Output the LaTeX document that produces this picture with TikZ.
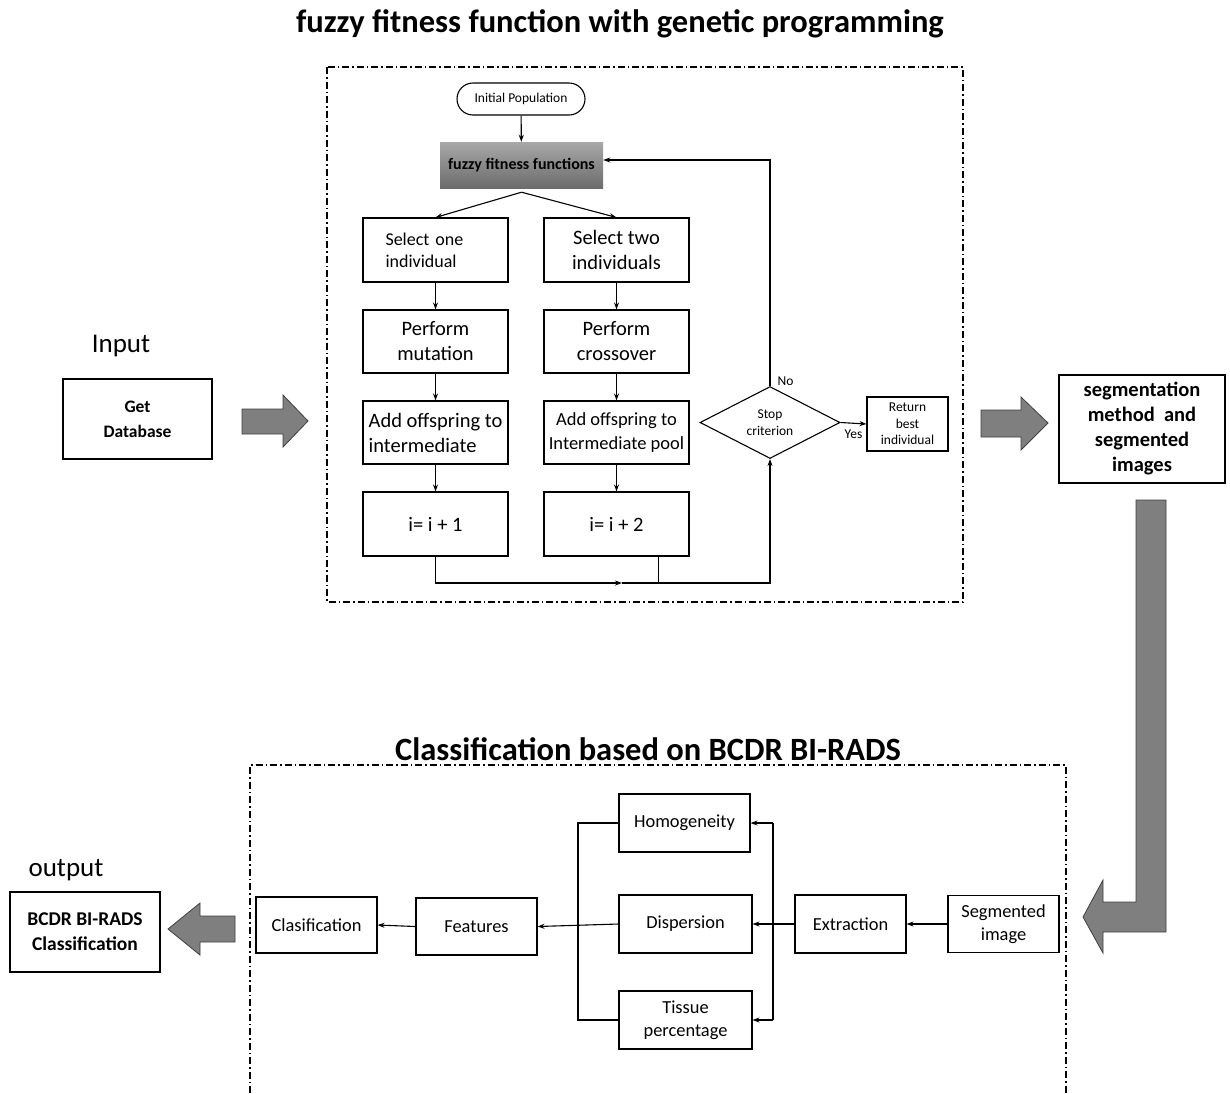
\documentclass[tikz,border=0pt]{standalone}
\usepackage{fontspec}
\setmainfont{Carlito}
\usetikzlibrary{arrows.meta,shapes.geometric}
\definecolor{FFTop}{HTML}{A8A8A8}
\definecolor{FFBottom}{HTML}{6C6C6C}
\definecolor{ArrGray}{HTML}{7F7F7F}
\definecolor{ArrEdge}{HTML}{404040}

\tikzset{
  stepbox/.style={draw,line width=1.1pt,minimum width=145pt,minimum height=63pt,align=center,inner sep=2pt,font=\fontsize{20.5}{25}\selectfont},
  featbox/.style={draw,line width=1.1pt,minimum height=57pt,align=center,inner sep=2pt,font=\fontsize{18.4}{23}\selectfont},
  iobox/.style={draw,line width=1.3pt,align=center,inner sep=2pt},
  smalltxt/.style={font=\fontsize{13.5}{16.5}\selectfont},
  flow/.style={line width=1.1pt,-{Stealth[length=7pt,width=5pt]}},
  wire/.style={line width=1.1pt},
  groupframe/.style={line width=1.3pt,dash pattern=on 7pt off 3pt on 1.5pt off 3pt},
  fatarrow/.style={fill=ArrGray,draw=ArrEdge,line width=.8pt,line join=miter},
  headtxt/.style={font=\bfseries\fontsize{32.5}{36}\selectfont},
  sidetxt/.style={font=\fontsize{27}{30}\selectfont}
}

\begin{document}
\begin{tikzpicture}[x=1pt,y=-1pt]
\path[use as bounding box] (0,0) rectangle (1230,1093);

% genetic programming part
\node[headtxt] (gptitle) at (620,24) {fuzzy fitness function with genetic programming};
\draw[groupframe] (327,67) rectangle (963,602);

\node[draw,line width=1.1pt,rounded corners=16pt,minimum width=128pt,minimum height=32pt,smalltxt] (init) at (521,99) {Initial Population};
\node[top color=FFTop,bottom color=FFBottom,minimum width=163pt,minimum height=46pt,font=\bfseries\fontsize{16}{19}\selectfont] (fit) at (521.5,165) {fuzzy fitness functions};

\node[stepbox,minimum height=64pt,font=\fontsize{18}{22}\selectfont,align=left,text width=100pt] (sel1) at (435.5,250) {Select one\\individual};
\node[stepbox,minimum height=64pt] (sel2) at (616.5,250) {Select two\\individuals};
\node[stepbox] (mut) at (435.5,341.5) {Perform\\mutation};
\node[stepbox] (cross) at (616.5,341.5) {Perform\\crossover};
\node[stepbox,align=left] (add1) at (435.5,432.5) {Add offspring to\\intermediate};
\node[stepbox,font=\fontsize{18.5}{24}\selectfont] (add2) at (616.5,432.5) {Add offspring to\\Intermediate pool};
\node[stepbox,minimum height=64pt] (inc1) at (435.5,524) {i= i + 1};
\node[stepbox,minimum height=64pt] (inc2) at (616.5,524) {i= i + 2};

\node[draw,diamond,line width=1.1pt,minimum width=140pt,minimum height=65pt,inner sep=0pt,align=center,smalltxt] (stop) at (770,422.5) {Stop\\criterion};
\node[draw,line width=1.1pt,minimum width=81pt,minimum height=54pt,inner sep=1pt,align=center,smalltxt] (ret) at (907.5,424) {Return\\best\\individual};

\coordinate (join) at (622,583);

\draw[flow] (init) -- (fit);
\draw[flow] ([yshift=-4pt]fit.south) -- (sel1.north);
\draw[flow] ([yshift=-4pt]fit.south) -- (sel2.north);
\draw[flow] (sel1) -- (mut);
\draw[flow] (mut) -- (add1);
\draw[flow] (add1) -- (inc1);
\draw[flow] (sel2) -- (cross);
\draw[flow] (cross) -- (add2);
\draw[flow] (add2) -- (inc2);
\draw[flow] (inc1.south) |- (join);
\draw[wire] ([xshift=42pt]inc2.south) -- ([xshift=42pt]inc2.south |- join);
\draw[flow] (join) -| (stop.south);
\draw[flow] (stop.north) |- ([yshift=5pt]fit.east);
\node[smalltxt,anchor=west] (no) at (774,381) {No};
\draw[flow] (stop.east) -- (ret.west) node[midway,below=3pt,smalltxt] (yes) {Yes};

% input / segmentation
\node[sidetxt] (inlbl) at (121,346) {Input};
\node[iobox,minimum width=149pt,minimum height=80pt,font=\bfseries\fontsize{17.5}{25}\selectfont] (db) at (137.5,419) {Get\\Database};
\draw[fatarrow] (242,409) -- (283,409) -- (283,395) -- (308,421) -- (283,447) -- (283,434) -- (242,434) -- cycle;
\draw[fatarrow] (981,410) -- (1021,410) -- (1021,397) -- (1048,423) -- (1021,450) -- (1021,437) -- (981,437) -- cycle;
\node[iobox,minimum width=166pt,minimum height=108pt,font=\bfseries\fontsize{20.5}{25}\selectfont] (seg) at (1142,429) {segmentation\\method~ and\\segmented\\images};
\draw[fatarrow] (1136,500) -- (1166,500) -- (1166,932) -- (1103,932) -- (1103,953) -- (1083,917) -- (1103,880) -- (1103,902) -- (1136,902) -- cycle;

% classification part
\node[headtxt] (cltitle) at (648,749) {Classification based on BCDR BI-RADS};
\draw[groupframe] (250,1093) -- (250,765) -- (1066,765) -- (1066,1093);

\node[featbox,minimum width=111pt] (segimg) at (1003.5,924) {Segmented\\image};
\node[featbox,minimum width=111pt,minimum height=58pt] (extr) at (850.5,924) {Extraction};
\node[featbox,minimum width=133pt,minimum height=58pt] (disp) at (685.5,924) {Dispersion};
\node[featbox,minimum width=131pt,minimum height=58pt] (homog) at (684.5,823) {Homogeneity};
\node[featbox,minimum width=133pt,minimum height=58pt] (tissue) at (685.5,1020) {Tissue\\percentage};
\node[featbox,minimum width=121pt] (feat) at (476.5,926.5) {Features};
\node[featbox,minimum width=121pt,minimum height=56pt] (clas) at (316.5,925) {Clasification};

\coordinate (rb) at (773,924);
\coordinate (lb) at (578,924);

\draw[flow] (segimg.west) -- (extr.east);
\draw[flow] (extr.west) -- (disp.east);
\draw[wire] (rb |- homog.east) -- (rb |- tissue.east);
\draw[flow] (rb |- homog.east) -- (homog.east);
\draw[flow] (rb |- tissue.east) -- (tissue.east);
\draw[wire] (homog.west) -| (lb) |- (tissue.west);
\draw[flow] (disp.west) -- (feat.east);
\draw[flow] (feat.west) -- (clas.east);

% output
\node[sidetxt] (outlbl) at (66,870) {output};
\node[iobox,minimum width=150pt,minimum height=80pt,font=\bfseries\fontsize{19.5}{25}\selectfont] (out) at (85,932) {BCDR BI-RADS\\Classification};
\draw[fatarrow] (235,916) -- (200,916) -- (200,903) -- (168,929) -- (200,955) -- (200,942) -- (235,942) -- cycle;
\end{tikzpicture}
\end{document}
